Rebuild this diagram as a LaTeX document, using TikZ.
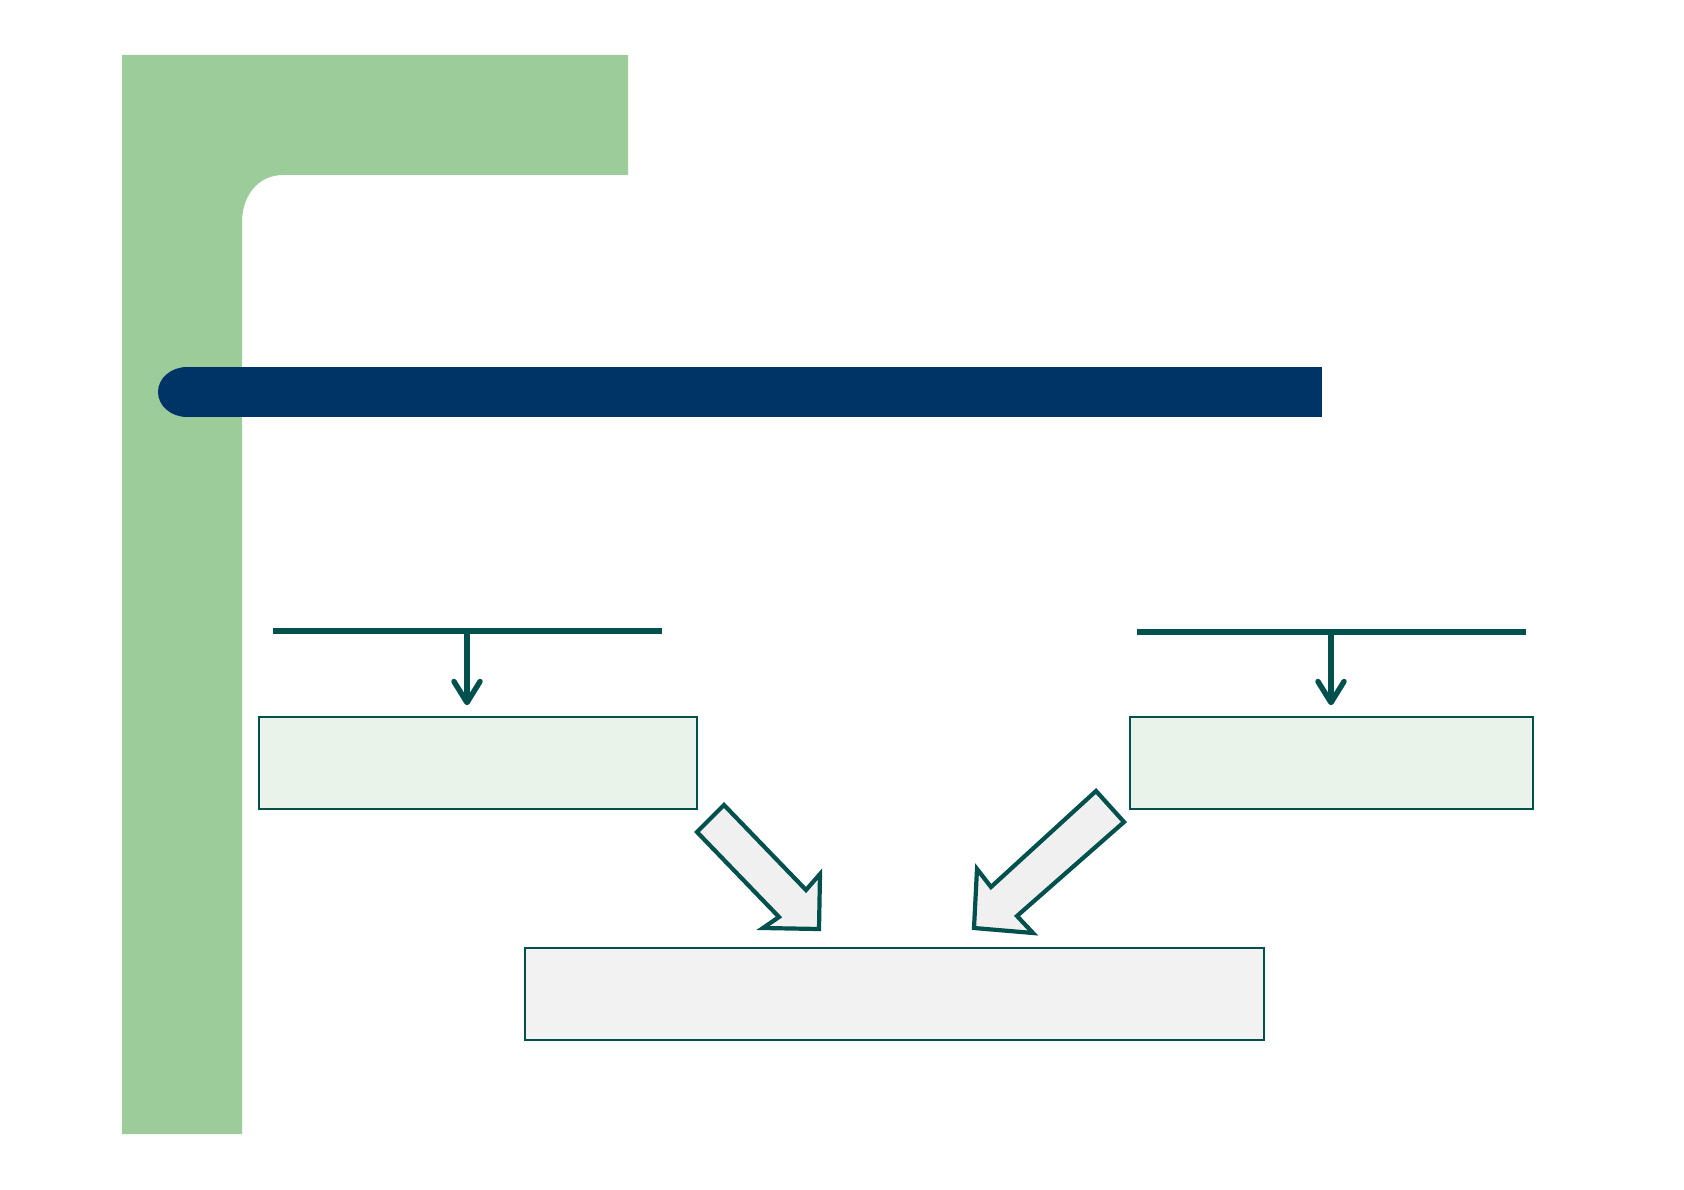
\documentclass[tikz,border=0pt]{standalone}
\usetikzlibrary{arrows.meta}
\definecolor{sidegreen}{RGB}{155,204,153}
\definecolor{navybar}{RGB}{0,51,102}
\definecolor{tealline}{RGB}{0,80,78}
\definecolor{boxgreen}{RGB}{234,243,234}
\definecolor{boxgrey}{RGB}{242,242,242}
\definecolor{arrowgrey}{RGB}{240,240,240}
\begin{document}
\begin{tikzpicture}[x=1pt,y=-1pt,
  lightbox/.style={draw=tealline, line width=1.5pt, fill=boxgreen, inner sep=0pt, minimum height=92pt},
  greybox/.style={draw=tealline, line width=1.5pt, fill=boxgrey, inner sep=0pt, minimum height=92pt},
  headline/.style={draw=tealline, line width=5.4pt},
  thinarrow/.style={draw=tealline, line width=5.4pt, -{Straight Barb[length=21pt,width=26pt,round]}, shorten >=11pt},
  blockarrow/.style={draw=tealline, line width=4.2pt, fill=arrowgrey, line join=miter}
]
\useasboundingbox (0,0) rectangle (1684,1190);
% green frame
\fill[sidegreen] (122,55) -- (628,55) -- (628,175) -- (283,175)
  .. controls (258,175) and (242,196) .. (242,222) -- (242,1134) -- (122,1134) -- cycle;
% navy title bar
\fill[navybar] (187,367) rectangle (1322,417);
\fill[navybar] (187,392) ellipse [x radius=29, y radius=25];
% header lines
\coordinate (l1s) at (273,631);
\coordinate (l1e) at (662,631);
\coordinate (l1m) at (467,631);
\coordinate (l2s) at (1137,632);
\coordinate (l2e) at (1526,632);
\coordinate (l2m) at (1331,632);
\draw[headline] (l1s) -- (l1e);
\draw[headline] (l2s) -- (l2e);
% boxes
\node[lightbox, minimum width=438pt] (boxL) at (478,763) {};
\node[lightbox, minimum width=403pt] (boxR) at (1331.5,763) {};
\node[greybox, minimum width=739pt] (boxB) at (894.5,994) {};
% thin arrows
\draw[thinarrow] (l1m) -- (l1m |- boxL.north);
\draw[thinarrow] (l2m) -- (l2m |- boxR.north);
% block arrows
\draw[blockarrow] (724,805) -- (697,832) -- (779,917) -- (763,928) -- (819,929) -- (820,874) -- (806,890) -- cycle;
\draw[blockarrow] (1096,791) -- (1124,822) -- (1017,916) -- (1033,933) -- (974,928) -- (977,869) -- (991,887) -- cycle;
\end{tikzpicture}
\end{document}
